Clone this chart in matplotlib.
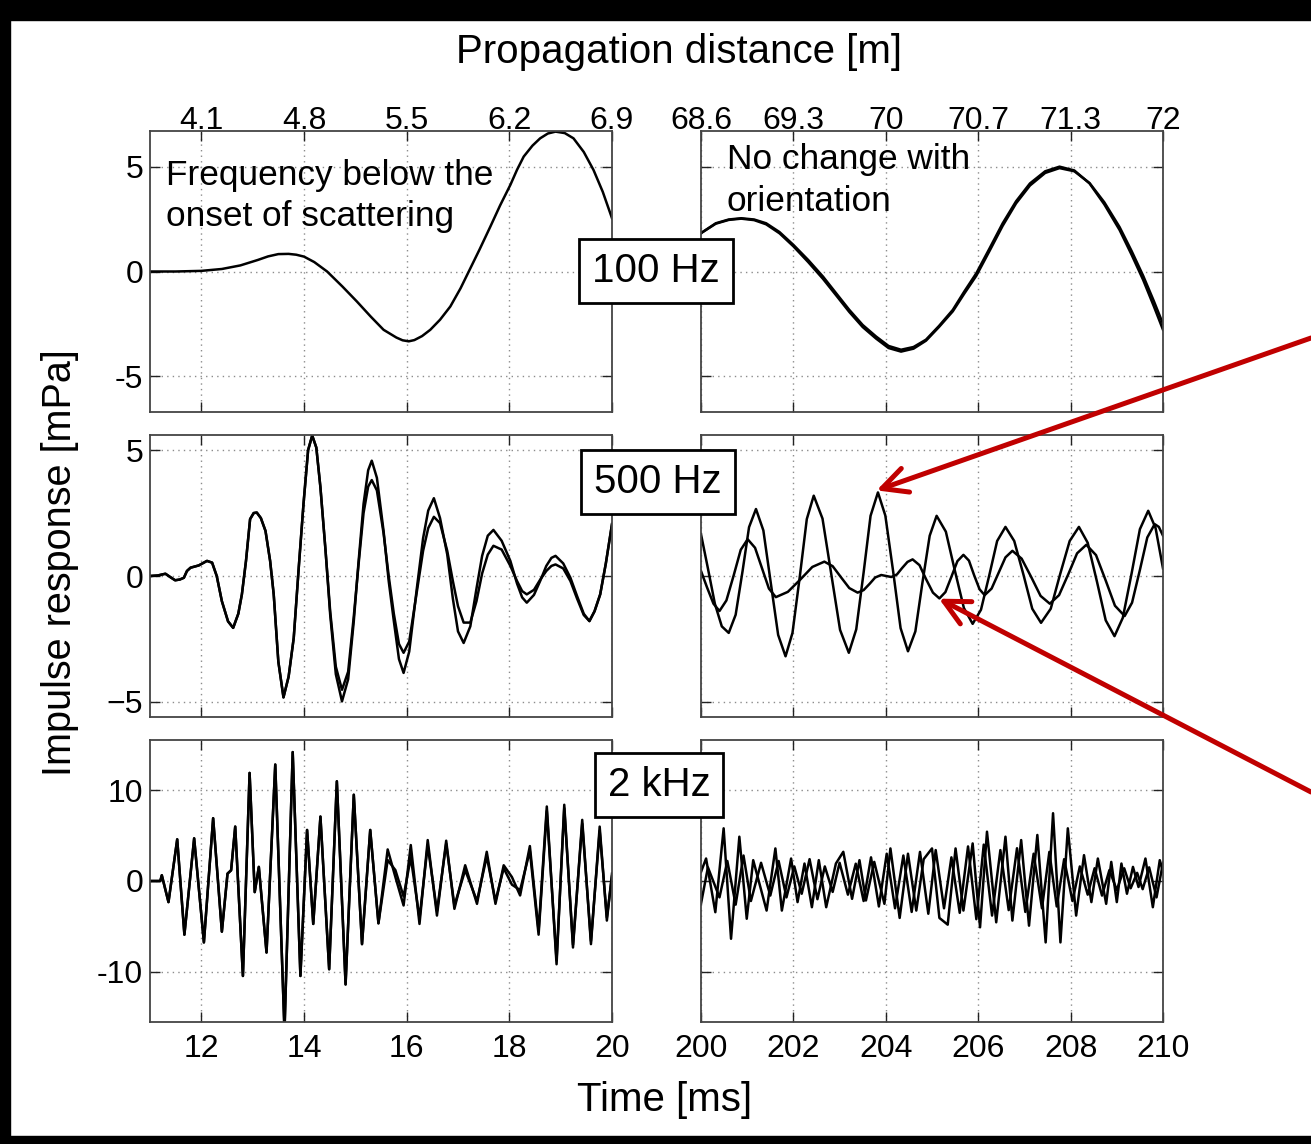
import numpy as np
import matplotlib
matplotlib.use("Agg")
import matplotlib.pyplot as plt
from matplotlib.patches import Rectangle

plt.rcParams['font.family'] = ['Liberation Sans', 'DejaVu Sans']

W, H = 1311, 1144

# ---- data: time [ms], impulse response [mPa] ----

# 100 Hz, early window
t_100_early = [11.0, 11.5, 12.0, 12.4, 12.76, 13.1, 13.3, 13.5, 13.7, 13.85, 14.0, 14.2, 14.45, 14.75,
               15.03, 15.3, 15.55, 15.8, 15.92, 16.04, 16.15, 16.3, 16.46, 16.65, 16.85, 17.05, 17.21,
               17.42, 17.63, 17.82, 18.02, 18.15, 18.28, 18.45, 18.6, 18.75, 18.9, 19.08, 19.25,
               19.45, 19.64, 19.82, 20.0]
y_100_early = [0.0, 0.0, 0.03, 0.12, 0.29, 0.55, 0.72, 0.83, 0.84, 0.8, 0.71, 0.45, 0.0, -0.72,
               -1.43, -2.15, -2.78, -3.15, -3.28, -3.33, -3.27, -3.08, -2.78, -2.3, -1.67, -0.8, 0.0,
               1.05, 2.14, 3.15, 4.13, 4.85, 5.48, 6.0, 6.35, 6.58, 6.67, 6.6, 6.35, 5.7, 4.84, 3.8,
               2.54]

# 100 Hz, late window (orientations nearly identical)
t_100_late = [200.0, 200.32, 200.6, 200.87, 201.15, 201.41, 201.7, 202.0, 202.32, 202.64, 202.93,
              203.21, 203.5, 203.79, 204.06, 204.33, 204.6, 204.87, 205.15, 205.45, 205.7, 205.96,
              206.25, 206.53, 206.82, 207.12, 207.45, 207.76, 208.08, 208.41, 208.73, 209.06,
              209.32, 209.57, 209.8, 210.0]
y_100_late_a = [1.83, 2.3, 2.48, 2.54, 2.48, 2.3, 1.88, 1.27, 0.55, -0.24, -1.05, -1.83, -2.55,
                -3.1, -3.55, -3.73, -3.6, -3.25, -2.6, -1.83, -0.95, -0.08, 1.12, 2.3, 3.35,
                4.2, 4.78, 5.0, 4.82, 4.2, 3.2, 1.98, 0.8, -0.4, -1.65, -2.78]
y_100_late_b = [1.83, 2.28, 2.46, 2.52, 2.45, 2.25, 1.82, 1.2, 0.45, -0.35, -1.15, -1.93, -2.65,
                -3.2, -3.65, -3.82, -3.68, -3.3, -2.65, -1.9, -1.05, -0.2, 1.0, 2.18, 3.25,
                4.1, 4.7, 4.93, 4.78, 4.22, 3.3, 2.12, 0.98, -0.2, -1.4, -2.5]

# 500 Hz, early window
t_500_early = [11.0, 11.15, 11.3, 11.4, 11.49, 11.58, 11.66, 11.72, 11.79, 11.95, 12.11, 12.21,
               12.3, 12.4, 12.52, 12.62, 12.72, 12.79, 12.87, 12.95, 13.02, 13.08, 13.16, 13.25,
               13.34, 13.41, 13.5, 13.6, 13.7, 13.8, 13.9, 13.99, 14.08, 14.16, 14.24, 14.32,
               14.42, 14.51, 14.62, 14.74, 14.86, 14.97, 15.06, 15.16, 15.25, 15.32, 15.42, 15.55,
               15.65, 15.75, 15.85, 15.94, 16.05, 16.2, 16.32, 16.42, 16.53, 16.65, 16.79, 16.9,
               17.0, 17.11, 17.24, 17.36, 17.47, 17.58, 17.69, 17.85, 18.02, 18.15, 18.25, 18.34,
               18.48, 18.6, 18.72, 18.82, 18.9, 19.05, 19.19, 19.32, 19.45, 19.56, 19.66, 19.77,
               19.88, 20.0]
y_500_early_a = [0.0, 0.02, 0.09, -0.05, -0.17, -0.14, -0.07, 0.2, 0.33, 0.42, 0.6, 0.53,
                 0.0, -1.0, -1.8, -2.06, -1.5, -0.73, 0.6, 2.26, 2.5, 2.52, 2.3, 1.79,
                 0.6, -0.73, -3.4, -4.82, -4.0, -2.46, 0.4, 2.86, 5.0, 5.58, 5.1, 3.52,
                 1.0, -1.53, -3.9, -4.98, -4.1, -1.79, 0.5, 2.86, 4.2, 4.58, 3.9, 1.79,
                 -0.2, -1.79, -3.3, -3.85, -3.0, -0.46, 1.5, 2.6, 3.09, 2.3, 0.86, -0.9,
                 -2.2, -2.66, -2.0, -0.5, 0.8, 1.6, 1.83, 1.4, 0.6, -0.3, -0.85, -1.06,
                 -0.75, -0.2, 0.4, 0.72, 0.8, 0.5, -0.07, -0.8, -1.5, -1.79, -1.4, -0.73,
                 0.5, 2.06]
y_500_early_b = [0.0, 0.02, 0.09, -0.05, -0.17, -0.14, -0.07, 0.2, 0.33, 0.42, 0.6, 0.53,
                 0.0, -1.0, -1.8, -2.06, -1.5, -0.73, 0.6, 2.26, 2.5, 2.52, 2.3, 1.79,
                 0.6, -0.73, -3.4, -4.82, -4.0, -2.46, 0.4, 2.86, 5.0, 5.58, 5.1, 3.52,
                 1.0, -1.4, -3.6, -4.52, -3.8, -1.6, 0.4, 2.5, 3.55, 3.81, 3.4, 1.7,
                 0.0, -1.5, -2.7, -3.05, -2.6, -0.6, 1.0, 1.9, 2.35, 2.1, 1.0, -0.2,
                 -1.2, -1.85, -1.85, -1.0, 0.1, 0.85, 1.2, 1.05, 0.4, -0.2, -0.6, -0.73,
                 -0.55, -0.15, 0.2, 0.4, 0.46, 0.3, -0.2, -0.9, -1.55, -1.79, -1.4, -0.73,
                 0.5, 2.06]

# 500 Hz, late window: strongly orientation dependent
t_500_late_a = [200.0, 200.15, 200.3, 200.45, 200.6, 200.75, 200.9, 201.04, 201.19, 201.35,
                201.51, 201.67, 201.83, 201.98, 202.14, 202.29, 202.44, 202.63, 202.82, 203.01,
                203.2, 203.36, 203.52, 203.67, 203.83, 203.99, 204.16, 204.32, 204.48, 204.64,
                204.79, 204.95, 205.1, 205.3, 205.49, 205.69, 205.88, 206.06, 206.24, 206.41,
                206.59, 206.78, 206.98, 207.17, 207.36, 207.57, 207.77, 207.98, 208.18, 208.37,
                208.57, 208.76, 208.95, 209.13, 209.32, 209.5, 209.68, 209.84, 210.0]
y_500_late_a = [1.66, 0.3, -1.1, -2.0, -2.26, -1.54, 0.2, 1.94, 2.66, 1.81,
                -0.27, -2.34, -3.19, -2.26, 0.0, 2.26, 3.19, 2.28, 0.07, -2.14,
                -3.05, -2.12, 0.14, 2.39, 3.32, 2.4, 0.17, -2.07, -2.99, -2.2,
                -0.3, 1.6, 2.39, 1.76, 0.25, -1.27, -1.9, -1.34, 0.03, 1.39,
                1.95, 1.39, 0.05, -1.3, -1.86, -1.3, 0.05, 1.39, 1.95, 1.32,
                -0.22, -1.76, -2.39, -1.66, 0.1, 1.86, 2.59, 1.9, 0.3]
t_500_late_b = [200.0, 200.13, 200.27, 200.4, 200.55, 200.71, 200.86, 201.01, 201.17, 201.32,
                201.47, 201.62, 201.88, 202.15, 202.41, 202.67, 202.85, 203.03, 203.21, 203.39,
                203.52, 203.65, 203.77, 203.9, 204.01, 204.12, 204.24, 204.35, 204.47, 204.58,
                204.73, 204.87, 205.02, 205.16, 205.29, 205.42, 205.55, 205.68, 205.8, 205.91,
                206.03, 206.14, 206.29, 206.44, 206.59, 206.74, 206.94, 207.15, 207.35, 207.55,
                207.75, 207.95, 208.14, 208.34, 208.55, 208.76, 208.96, 209.17, 209.33, 209.5,
                209.66, 209.82, 209.91, 210.0]
y_500_late_b = [0.2, -0.45, -1.1, -1.39, -0.97, 0.04, 1.04, 1.46, 1.12, 0.31,
                -0.5, -0.84, -0.63, -0.14, 0.36, 0.57, 0.39, -0.05, -0.48, -0.66,
                -0.56, -0.31, -0.06, 0.04, 0.0, -0.04, 0.06, 0.31, 0.56, 0.66,
                0.43, -0.12, -0.66, -0.89, -0.64, -0.03, 0.59, 0.84, 0.61, 0.04,
                -0.53, -0.76, -0.5, 0.12, 0.74, 1.0, 0.69, -0.05, -0.79, -1.1,
                -0.76, 0.07, 0.9, 1.24, 0.83, -0.18, -1.18, -1.59, -1.06, 0.24,
                1.53, 2.06, 1.95, 1.6]

# 2 kHz, early window
t_2k_early = [11.0, 11.2, 11.23, 11.36, 11.53, 11.67, 11.86, 12.05, 12.23, 12.4, 12.51, 12.58,
              12.66, 12.81, 12.94, 13.04, 13.12, 13.27, 13.44, 13.62, 13.78, 13.93, 14.06, 14.18,
              14.32, 14.49, 14.64, 14.81, 14.97, 15.13, 15.29, 15.45, 15.63, 15.78, 15.94, 16.08,
              16.25, 16.41, 16.59, 16.77, 16.93, 17.14, 17.37, 17.56, 17.73, 17.89, 18.05, 18.21,
              18.4, 18.57, 18.73, 18.92, 19.07, 19.24, 19.42, 19.59, 19.76, 19.9, 20.0]
y_2k_early_a = [0.0, 0.0, 0.63, -2.32, 4.58, -5.9, 4.69, -6.75, 6.9, -5.57, 0.81, 1.18,
                5.98, -10.44, 11.88, -1.22, 1.55, -7.86, 12.8, -16.5, 14.17, -10.44, 5.61, -4.72,
                7.08, -9.7, 10.96, -11.37, 9.48, -6.94, 5.61, -4.65, 3.47, 0.44, -2.69, 3.95,
                -4.72, 4.5, -3.8, 4.43, -3.06, 1.73, -2.51, 3.21, -2.51, 1.73, 0.44, -1.59,
                3.84, -5.46, 8.19, -9.15, 8.38, -7.31, 6.72, -6.94, 5.98, -4.35, 0.81]
y_2k_early_b = [0.0, 0.0, 0.63, -2.32, 4.58, -5.9, 4.69, -6.75, 6.9, -5.57, 0.81, 1.18,
                5.98, -10.44, 11.88, -1.22, 1.55, -7.86, 12.8, -16.5, 14.17, -10.44, 5.61, -4.72,
                7.08, -9.7, 10.96, -11.37, 9.48, -6.94, 5.61, -4.65, 2.3, 1.2, -1.7, 2.6,
                -4.1, 3.9, -3.3, 4.1, -2.7, 1.2, -2.2, 2.7, -2.2, 1.4, -0.4, -1.0,
                3.3, -5.9, 7.7, -8.7, 8.0, -7.0, 6.3, -6.6, 5.5, -4.0, 0.5]

# 2 kHz, late window
t_2k_late_a = [200.0, 200.11, 200.31, 200.49, 200.65, 200.83, 200.99, 201.13, 201.42, 201.61,
               201.75, 201.95, 202.09, 202.24, 202.4, 202.55, 202.71, 202.92, 203.08, 203.27,
               203.43, 203.57, 203.75, 203.97, 204.1, 204.3, 204.48, 204.66, 204.82, 205.0,
               205.16, 205.34, 205.51, 205.68, 205.88, 206.04, 206.19, 206.39, 206.59, 206.74,
               206.93, 207.1, 207.28, 207.46, 207.62, 207.78, 207.94, 208.12, 208.29, 208.45,
               208.59, 208.77, 208.88, 209.0, 209.1, 209.22, 209.35, 209.47, 209.62, 209.78,
               209.93, 210.0]
y_2k_late_a = [1.0, 2.47, -3.43, 5.79, -6.35, 4.87, -4.15, 2.29, -3.25, 3.58,
               -3.25, 2.47, -2.32, 1.92, -2.88, 2.29, -2.88, 1.92, 3.21, -1.96,
               2.29, -2.14, 2.1, -2.51, 3.58, -4.06, 3.0, -3.25, 2.4, 3.58,
               -4.06, -4.8, 3.58, -3.25, 4.13, -5.09, 5.42, -4.54, 4.87, -4.35,
               4.5, -4.91, 5.06, -6.75, 7.45, -6.75, 5.79, -3.8, 2.84, -2.32,
               2.47, -2.51, 2.1, -2.32, 1.92, -1.4, 1.55, -0.66, 2.47, -2.88,
               2.29, 1.0]
t_2k_late_b = [200.0, 200.15, 200.4, 200.57, 200.75, 200.92, 201.08, 201.3, 201.5, 201.68,
               201.85, 202.02, 202.18, 202.35, 202.52, 202.68, 202.85, 203.0, 203.18, 203.35,
               203.52, 203.68, 203.85, 204.02, 204.2, 204.38, 204.56, 204.74, 204.92, 205.08,
               205.26, 205.42, 205.6, 205.78, 205.96, 206.12, 206.3, 206.48, 206.66, 206.84,
               207.02, 207.2, 207.38, 207.54, 207.7, 207.86, 208.04, 208.2, 208.37, 208.52,
               208.68, 208.84, 209.0, 209.16, 209.3, 209.44, 209.56, 209.7, 209.86, 210.0]
y_2k_late_b = [-2.5, 1.5, -1.8, 2.2, -2.6, 2.8, -2.2, 2.0, -1.6, 2.2, -1.8, 1.6, -1.4, 2.4,
               -2.0, 1.6, -1.2, 2.0, -1.5, 1.9, -2.2, 2.6, -2.8, 3.0, -3.0, 2.8, -3.4, 3.2,
               -3.6, 3.4, -3.0, 2.6, -3.5, 3.8, -4.2, 4.0, -3.8, 3.4, -3.2, 3.6, -3.4, 3.0,
               -3.0, 3.2, -2.8, 2.4, -2.2, 1.6, -1.5, 1.4, -1.6, 1.2, -1.0, 1.4, -0.8, 0.9,
               -0.9, 1.5, -1.8, 2.0]

top_ticks_early = [12, 14, 16, 18, 20]
top_labels_early = ['4.1', '4.8', '5.5', '6.2', '6.9']
top_ticks_late = [200, 202, 204, 206, 208, 210]
top_labels_late = ['68.6', '69.3', '70', '70.7', '71.3', '72']

rows = [
    dict(name='100 Hz', ylim=(-6.7, 6.7), yticks=[-5, 0, 5], ylabels=['-5', '0', '5'],
         early=[(t_100_early, y_100_early)],
         late=[(t_100_late, y_100_late_a), (t_100_late, y_100_late_b)]),
    dict(name='500 Hz', ylim=(-5.6, 5.6), yticks=[-5, 0, 5], ylabels=['\u22125', '0', '5'],
         early=[(t_500_early, y_500_early_a), (t_500_early, y_500_early_b)],
         late=[(t_500_late_a, y_500_late_a), (t_500_late_b, y_500_late_b)]),
    dict(name='2 kHz', ylim=(-15.5, 15.5), yticks=[-10, 0, 10], ylabels=['-10', '0', '10'],
         early=[(t_2k_early, y_2k_early_a), (t_2k_early, y_2k_early_b)],
         late=[(t_2k_late_a, y_2k_late_a), (t_2k_late_b, y_2k_late_b)]),
]

fig = plt.figure(figsize=(W / 100, H / 100), dpi=100)


def px_axes(x0, y0, x1, y1):
    return fig.add_axes([x0 / W, 1 - y1 / H, (x1 - x0) / W, (y1 - y0) / H])


def style(ax):
    ax.grid(True, color='0.55', linestyle=(0, (1, 3)), linewidth=1.0)
    ax.tick_params(direction='in', length=7, width=1, top=True, right=True,
                   labelsize=23, colors='#222222', labelcolor='black')
    for s in ax.spines.values():
        s.set_color('#444444')
        s.set_linewidth(1.3)


row_px = [(131, 412), (435, 717), (740, 1022)]
lw = 1.8
axes_late = []
for i, (r, (y0, y1)) in enumerate(zip(rows, row_px)):
    axl = px_axes(150, y0, 612, y1)
    axr = px_axes(701, y0, 1163, y1)
    for t, y in r['early']:
        axl.plot(t, y, color='black', lw=lw)
    for t, y in r['late']:
        axr.plot(t, y, color='black', lw=lw)
    axl.set_xlim(11, 20)
    axr.set_xlim(200, 210)
    for ax in (axl, axr):
        ax.set_ylim(*r['ylim'])
        ax.set_yticks(r['yticks'])
        style(ax)
    axl.set_xticks(top_ticks_early)
    axr.set_xticks(top_ticks_late)
    axl.set_yticklabels(r['ylabels'])
    axl.tick_params(axis='y', pad=5)
    axr.set_yticklabels([])
    if i == 2:
        axl.tick_params(axis='x', pad=8.5)
        axr.tick_params(axis='x', pad=8.5)
    else:
        axl.set_xticklabels([])
        axr.set_xticklabels([])
    if i == 0:
        for ax, lab in ((axl, top_labels_early), (axr, top_labels_late)):
            ax.tick_params(axis='x', labeltop=True, labelbottom=False, pad=-3.5)
            ax.set_xticklabels(lab)
        axl.text(0.035, 0.9, 'Frequency below the\nonset of scattering', transform=axl.transAxes,
                 fontsize=25.4, va='top', ha='left', linespacing=1.3)
        axr.text(0.056, 0.957, 'No change with\norientation', transform=axr.transAxes,
                 fontsize=25.4, va='top', ha='left', linespacing=1.33)
    axes_late.append(axr)

# frequency boxes
for (cx, cy), lab in zip([(656, 271), (658, 482), (659, 785)], ['100 Hz', '500 Hz', '2 kHz']):
    fig.text(cx / W, 1 - cy / H, lab, fontsize=29, ha='center', va='center', zorder=10,
             bbox=dict(boxstyle='square,pad=0.32', fc='white', ec='black', lw=2))

fig.text(679 / W, 1 - 52 / H, 'Propagation distance [m]', fontsize=29, ha='center', va='center')
fig.text(665 / W, 1 - 1100 / H, 'Time [ms]', fontsize=29, ha='center', va='center')
fig.text(60 / W, 1 - 563 / H, 'Impulse response [mPa]', fontsize=28.5, ha='center',
         va='center', rotation=90)

# red arrows into the 500 Hz late panel
red = '#c00000'
ax5 = axes_late[1]
for head, tail_y in [((203.8, 3.4), 338), ((205.15, -0.9), 792)]:
    ax5.annotate('', xy=head, xycoords='data', xytext=(1.0, 1 - tail_y / H),
                 textcoords='figure fraction',
                 arrowprops=dict(arrowstyle='->,head_length=0.9,head_width=0.45', color=red,
                                 lw=3.6, mutation_scale=20, shrinkA=0, shrinkB=0),
                 annotation_clip=False)

# black frame of the original slide
for x0, y0, w, h in [(0, 0, W, 20), (0, 0, 10, H), (0, H - 8, W, 8)]:
    fig.patches.append(Rectangle((x0 / W, 1 - (y0 + h) / H), w / W, h / H, transform=fig.transFigure,
                                 color='black', zorder=20))

fig.savefig('out.png', dpi=100)
